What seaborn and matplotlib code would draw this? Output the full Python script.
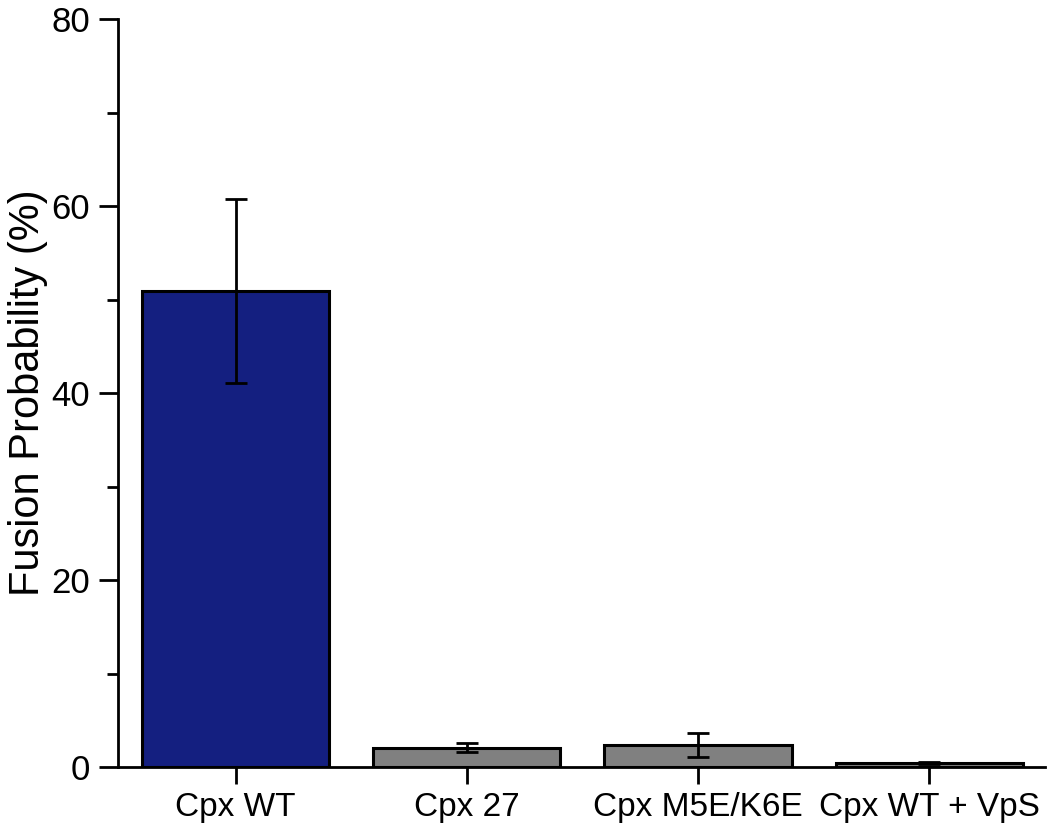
import numpy as np
import pandas as pd
import seaborn as sns
import matplotlib.pyplot as plt
from matplotlib.ticker import MultipleLocator

# Данные
conditions = ['Cpx WT', 'Cpx 27', 'Cpx M5E/K6E', 'Cpx WT + VpS']
fusion_prob = [50.9, 2.1, 2.4, 0.45]
fusion_err = [9.8, 0.5, 1.3, 0.15]
bar_colors = ['#141f80', '#808080', '#808080', '#808080']

df = pd.DataFrame({'condition': conditions, 'prob': fusion_prob})

sns.set_style('ticks', {'axes.edgecolor': 'black', 'text.color': 'black',
                        'xtick.color': 'black', 'ytick.color': 'black',
                        'axes.labelcolor': 'black'})
plt.rcParams['font.family'] = ['Liberation Sans', 'DejaVu Sans']

fig = plt.figure(figsize=(10.5, 8.25), dpi=100)
ax = fig.add_axes([0.112, 0.070, 0.883, 0.907])

sns.barplot(data=df, x='condition', y='prob', hue='condition',
            palette=bar_colors, saturation=1, legend=False, width=0.81,
            edgecolor='black', linewidth=2.2, errorbar=None, ax=ax)

# Планки погрешностей
ax.errorbar(np.arange(len(conditions)), fusion_prob, yerr=fusion_err,
            fmt='none', ecolor='black', elinewidth=2, capsize=8, capthick=2)

ax.set_xlim(-0.51, 3.5)
ax.set_ylim(0, 80)
ax.yaxis.set_major_locator(MultipleLocator(20))
ax.yaxis.set_minor_locator(MultipleLocator(10))
ax.tick_params(axis='y', which='major', length=14, width=2, labelsize=25, pad=6)
ax.tick_params(axis='y', which='minor', length=8, width=2)
ax.tick_params(axis='x', which='major', length=12, width=2, labelsize=24, pad=6)

ax.set_xlabel('')
ax.set_ylabel('Fusion Probability (%)', fontsize=30, labelpad=2)

sns.despine(ax=ax)
for side in ['left', 'bottom']:
    ax.spines[side].set_linewidth(2)

fig.savefig('out.png', dpi=100)
